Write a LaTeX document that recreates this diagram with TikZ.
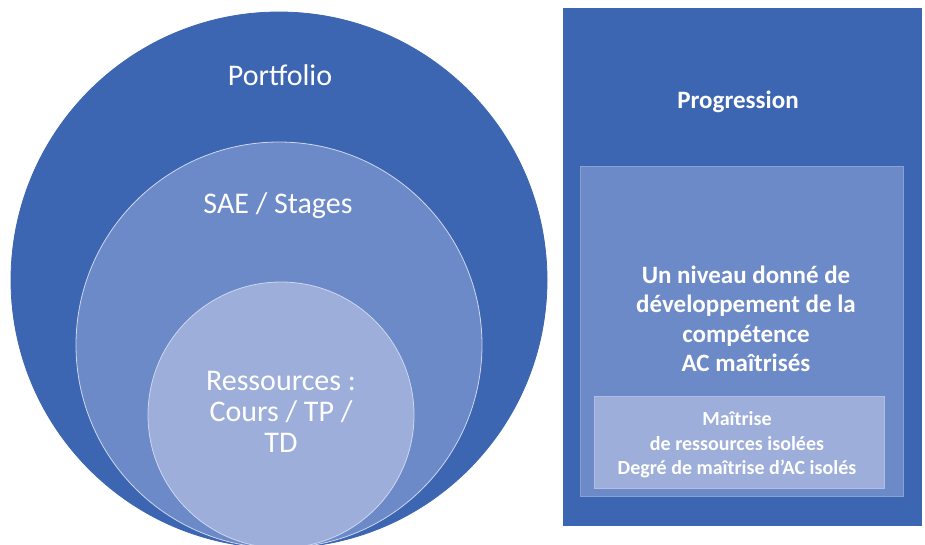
\documentclass[tikz,border=0pt]{standalone}
\usepackage{fontspec}
\setmainfont{Carlito}
\definecolor{darkb}{RGB}{60,102,177}
\definecolor{midb}{RGB}{108,137,200}
\definecolor{lightb}{RGB}{157,174,218}
\definecolor{rimc}{RGB}{205,215,238}
\begin{document}
\begin{tikzpicture}[x=1pt,y=-1pt,
  disc/.style={circle,inner sep=0pt,draw=rimc,line width=0.8pt},
  lab/.style={text=white,align=center,font=\fontsize{30}{31}\selectfont},
  blab/.style={text=white,align=center,font=\bfseries\fontsize{25}{29.5}\selectfont},
  slab/.style={text=white,align=center,font=\bfseries\fontsize{20}{24.5}\selectfont},
  panel/.style={inner sep=0pt,line width=0.8pt}]
\useasboundingbox (0,0) rectangle (925,544);
\clip (0,0) rectangle (925,544);
\fill[white] (0,0) rectangle (925,544);
% circles
\node[disc,fill=darkb,draw=darkb,minimum size=536pt] (outer) at (279,280) {};
\node[disc,fill=midb,minimum size=406pt] (middle) at (279,345) {};
\node[disc,fill=lightb,minimum size=266pt] (inner) at (281,415) {};
\node[lab] (tport) at (280,75) {Portfolio};
\node[lab] (tsae) at (278,206) {SAE / Stages};
\node[lab] (tres) at (281,412) {Ressources :\\Cours / TP /\\TD};
% right panel
\node[panel,fill=darkb,draw=darkb,minimum width=358pt,minimum height=517pt] (prog) at (742,266.5) {};
\node[panel,fill=midb,draw=midb!80!white,minimum width=323pt,minimum height=330pt] (niv) at (741.5,331) {};
\node[panel,fill=lightb,draw=lightb!80!white,minimum width=290pt,minimum height=92pt] (mait) at (739,442) {};
\node[blab] (tprog) at (738,102) {Progression};
\node[blab] (tniv) at (746,319) {Un niveau donné de\\développement de la\\compétence\\AC maîtrisés};
\node[slab] (tmait) at (737,445) {Maîtrise\\de ressources isolées\\Degré de maîtrise d’AC isolés};
\end{tikzpicture}
\end{document}
